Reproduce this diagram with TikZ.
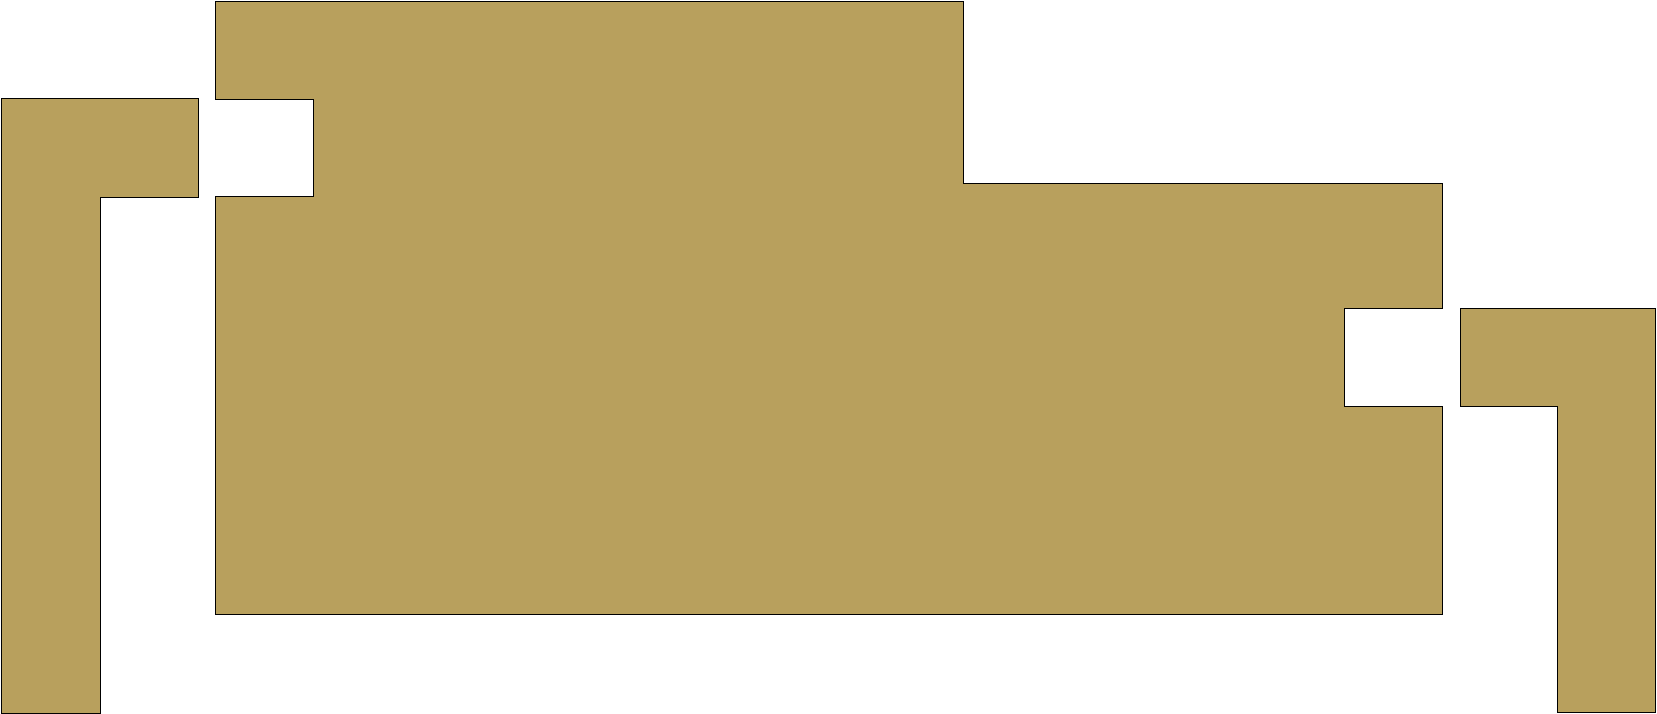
\documentclass[tikz,border=0pt]{standalone}
\definecolor{roomfill}{RGB}{184,160,93}
\tikzset{
    room/.style={fill=roomfill, draw=black, line width=1pt, line join=miter}
}

\begin{document}
\begin{tikzpicture}[x=1pt, y=-1pt]
    \useasboundingbox (0,0) rectangle (1657,714);
    % left wing
    \draw[room]
    (1,99) -- (198,99) -- (198,198) -- (100,198)
    -- (100,713) -- (1,713) -- cycle;
    % main block
    \draw[room]
    (215,2) -- (963,2) -- (963,184) -- (1442,184) -- (1442,308)
    -- (1344,308) -- (1344,406) -- (1442,406) -- (1442,614)
    -- (215,614) -- (215,197) -- (313,197) -- (313,100)
    -- (215,100) -- cycle;
    % right wing
    \draw[room]
    (1460,308) -- (1655,308) -- (1655,712) -- (1557,712)
    -- (1557,406) -- (1460,406) -- cycle;
\end{tikzpicture}
\end{document}
